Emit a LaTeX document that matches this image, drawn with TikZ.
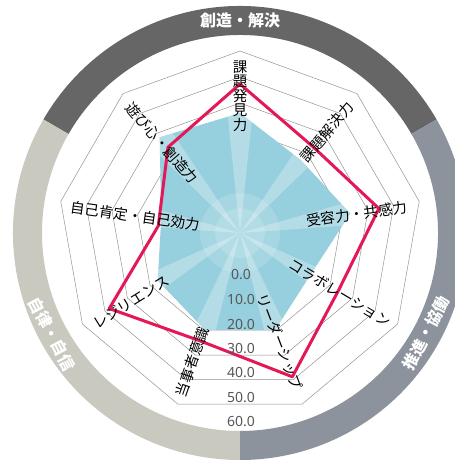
\documentclass[tikz,border=0pt]{standalone}
\usepackage{fontspec}
\newfontfamily\jp{Noto Sans CJK JP}
\newfontfamily\numfont{Noto Sans}
\definecolor{ringtop}{RGB}{102,102,102}
\definecolor{ringleft}{RGB}{201,201,192}
\definecolor{ringright}{RGB}{141,147,156}
\definecolor{fillc}{RGB}{150,207,221}
\definecolor{redc}{RGB}{228,24,86}
\definecolor{gridc}{RGB}{140,140,140}
\definecolor{numc}{RGB}{88,88,88}
\tikzset{
  gridline/.style={draw=gridc, line width=0.45pt},
  redline/.style={draw=redc, line width=3pt, line join=round},
  lab/.style={inner sep=0pt, font=\jp\fontsize{14.5}{14.6}\selectfont, text=black},
  num/.style={inner sep=0pt, font=\numfont\bfseries\fontsize{14}{14}\selectfont, text=numc},
  ringlab/.style={inner sep=0pt, font=\jp\bfseries\fontsize{16}{16}\selectfont, text=white}
}
\begin{document}
\begin{tikzpicture}[x=1pt,y=1pt]
\useasboundingbox (0,-466) rectangle (455,0);
\clip (0,-466) rectangle (455,0);
\fill[white] (0,-466) rectangle (455,0);
\begin{scope}[shift={(240,-233)}]
  % outer ring segments
  \fill[ringtop] (30:227) arc[start angle=30,end angle=150,radius=227] -- (150:198) arc[start angle=150,end angle=30,radius=198] -- cycle;
  \fill[ringleft] (150:227) arc[start angle=150,end angle=270,radius=227] -- (270:198) arc[start angle=270,end angle=150,radius=198] -- cycle;
  \fill[ringright] (-90:227) arc[start angle=-90,end angle=30,radius=227] -- (30:198) arc[start angle=30,end angle=-90,radius=198] -- cycle;
  % grid
  \foreach \k in {1,...,7}{
    \draw[gridline] (90:{26*\k}) \foreach \i in {1,...,8}{ -- ({90-40*\i}:{26*\k}) } -- cycle;
  }
  % data fill
  \fill[fillc] (90:120) -- (50:95) -- (10:112) -- (-30:82) -- (-70:103) -- (-110:103) -- (-150:95) -- (170:80) -- (130:125) -- cycle;
  \begin{scope}
    \clip (90:120) -- (50:95) -- (10:112) -- (-30:82) -- (-70:103) -- (-110:103) -- (-150:95) -- (170:80) -- (130:125) -- cycle;
    \foreach \a in {90,50,10,-30,-70,-110,-150,170,130}{
      \fill[white,opacity=0.28] (0,0) -- ({\a-6}:170) -- ({\a+6}:170) -- cycle;
    }
    \fill[white,opacity=0.15] (0,0) circle (40);
    \fill[white,opacity=0.15] (0,0) circle (25);
  \end{scope}
  % data line
  \draw[redline] (90:149) -- (50:113) -- (10:141) -- (-30:114) -- (-70:153) -- (-110:115) -- (-150:151) -- (175:82) -- (130:112) -- cycle;
\end{scope}
% axis labels
\node[lab, align=center] (l1) at (240,-96) {課\\題\\発\\見\\力};
\node[lab, rotate=50] (l2) at (327,-132) {課題解決力};
\node[lab, rotate=8] (l3) at (357,-214) {受容力・共感力};
\node[lab, rotate=-31] (l4) at (340,-293) {コラボレーション};
\node[lab, rotate=-69] (l5) at (280,-342) {リーダーシップ};
\node[lab, rotate=71] (l6) at (192,-362) {当事者意識};
\node[lab, rotate=32] (l7) at (131,-302) {レジリエンス};
\node[lab, rotate=-8] (l8) at (135,-216) {自己肯定・自己効力};
\node[lab, rotate=-49] (l9) at (162,-143) {遊び心・創造力};
% scale numbers
\node[num] (n0) at (241,-275) {0.0};
\node[num] (n1) at (241,-300) {10.0};
\node[num] (n2) at (241,-325) {20.0};
\node[num] (n3) at (241,-349) {30.0};
\node[num] (n4) at (241,-373) {40.0};
\node[num] (n5) at (241,-398) {50.0};
\node[num] (n6) at (241,-422) {60.0};
% ring titles
\node[ringlab] (t1) at (240,-20) {創造・解決};
\node[ringlab, rotate=-62] (t2) at (52,-334) {自律・自信};
\node[ringlab, rotate=62] (t3) at (426,-333) {推進・協働};
\end{tikzpicture}
\end{document}
